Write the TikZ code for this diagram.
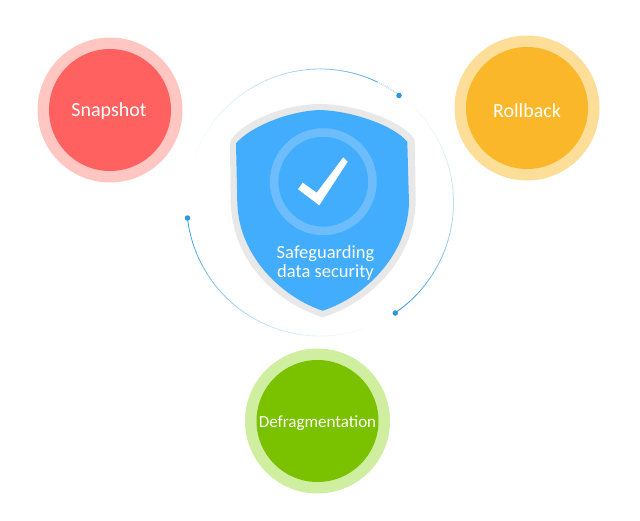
\documentclass[tikz,border=0pt]{standalone}
\usepackage{fontspec}
\setmainfont{Carlito}
\definecolor{arcblue}{HTML}{2A98DC}
\definecolor{shieldgray}{HTML}{E8E8E9}
\definecolor{shieldblue}{HTML}{42ADFC}
\definecolor{ringblue}{HTML}{6DBDFD}
\tikzset{
  x=1pt,y=-1pt,
  inner/.style={circle,minimum size=122pt,inner sep=0pt},
  halo/.style={circle,minimum size=145pt,inner sep=0pt},
  dot/.style={circle,fill=#1,minimum size=5.5pt,inner sep=0pt},
  biglabel/.style={text=white,font=\fontsize{20}{22}\selectfont,inner sep=0pt},
  label/.style={text=white,font=\fontsize{18.5}{20}\selectfont,inner sep=0pt}
}
\begin{document}
\begin{tikzpicture}
\useasboundingbox (0,0) rectangle (640,520);
% satellite circles
\node[halo,fill={rgb,255:red,255;green,198;blue,194}] (snapH) at (110,110) {};
\node[inner,fill={rgb,255:red,255;green,97;blue,97}] (snap) at (110,110) {};
\node[biglabel] (snapT) at (109,111) {Snapshot};
\node[halo,fill={rgb,255:red,252;green,222;blue,152}] (rollH) at (527,108) {};
\node[inner,fill={rgb,255:red,250;green,183;blue,41}] (roll) at (527,108) {};
\node[biglabel] (rollT) at (527,110.5) {Rollback};
\node[halo,fill={rgb,255:red,208;green,238;blue,160}] (defH) at (317.5,421) {};
\node[inner,fill={rgb,255:red,122;green,193;blue,0}] (def) at (317.5,421) {};
\node[text=white,font=\fontsize{17}{20}\selectfont,inner sep=0pt] (defT) at (317.5,423) {Defragmentation};
% fading ring arcs
\coordinate (ringC) at (320,202.5);
\foreach \start in {53.7,186.6,304.3}{
  \foreach \i in {0,...,39}{
    \pgfmathsetmacro{\a}{\start+\i*3}
    \pgfmathsetmacro{\b}{\a+3.2}
    \pgfmathsetmacro{\p}{max(0,100*(1-\i/40)^1.9)}
    \draw[color=arcblue!\p!white,line width=0.8pt]
      (ringC) ++({133.5*cos(\a)},{-133.5*sin(\a)}) arc[start angle=-\a,end angle=-\b,radius=133.5];
  }
}
\node[dot=arcblue] (d1) at (399,95.5) {};
\node[dot=arcblue] (d2) at (187.5,218) {};
\node[dot=arcblue] (d3) at (395.3,313) {};
% shield
\fill[shieldgray] (320,104) .. controls (355,104) and (398,120) .. (412,136)
  .. controls (415,139) and (415,142) .. (415,146)
  -- (415.7,203) .. controls (413,265) and (365,304) .. (322.7,317.3)
  .. controls (280,304) and (233,265) .. (230.7,203) -- (230,146)
  .. controls (230,142) and (231,139) .. (234,136)
  .. controls (248,120) and (285,104) .. (320,104) -- cycle;
\fill[shieldblue] (320,110) .. controls (352,111) and (393,125) .. (407.3,141.7)
  -- (409,203.3) .. controls (407,258) and (362,298) .. (322.7,310.7)
  .. controls (284,298) and (239,258) .. (237.3,203) -- (236,143.3)
  .. controls (250,127) and (288,111) .. (320,110) -- cycle;
\draw[ringblue,line width=8.5pt] (323.3,181.7) circle[radius=49.2];
\fill[white] (343.3,157.3) -- (347.7,161.7) -- (319.3,205.3) -- (298,189.3) -- (302.7,182.7) -- (316.7,192.7) -- cycle;
\node[label] (t1) at (325.5,254) {Safeguarding};
\node[label] (t2) at (325.5,273) {data security};
\end{tikzpicture}
\end{document}
